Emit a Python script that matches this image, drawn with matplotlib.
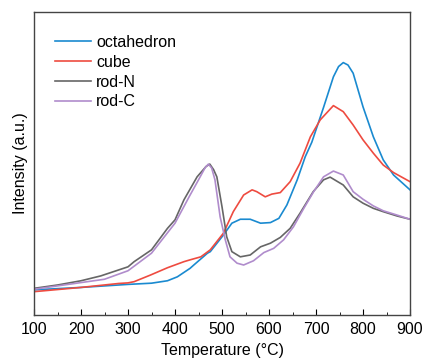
import numpy as np
import matplotlib
matplotlib.use("Agg")
import matplotlib.pyplot as plt
from matplotlib.ticker import MultipleLocator

plt.rcParams['font.family'] = ['Liberation Sans', 'DejaVu Sans']

# values (arbitrary intensity units, 0-100)
oct_t = [100, 200, 300, 350, 384, 405, 432, 440, 469, 475, 503, 521, 539, 560, 582, 603,
         621, 638, 660, 677, 691, 716, 737, 748, 758, 768, 779, 800, 822, 843, 865, 900]
oct_i = [8.3, 9.1, 10.1, 10.5, 11.3, 12.6, 15.4, 16.5, 20.4, 20.9, 26.4, 30.3, 31.6, 31.6, 30.3, 30.5,
         31.9, 36.3, 44.6, 52.2, 57.0, 68.5, 78.6, 82.0, 83.3, 82.5, 79.8, 68.7, 58.8, 51.2, 46.2, 41.3]

cube_t = [100, 200, 280, 300, 313, 348, 384, 419, 432, 455, 475, 503, 524, 546, 564, 574,
          592, 606, 624, 645, 666, 688, 709, 737, 758, 779, 800, 822, 843, 865, 900]
cube_i = [7.7, 9.1, 10.4, 10.6, 11.0, 13.2, 15.6, 17.6, 18.2, 19.2, 21.5, 27.0, 34.1, 39.6, 41.3, 40.7,
          39.0, 39.9, 40.4, 44.0, 50.1, 58.8, 64.4, 69.1, 67.1, 62.7, 57.8, 53.4, 49.5, 47.0, 44.0]

rodn_t = [100, 150, 200, 242, 300, 313, 350, 384, 400, 419, 447, 466, 474, 482, 489, 500, 510,
          521, 539, 560, 582, 603, 624, 645, 666, 694, 716, 730, 758, 779, 800, 822, 843, 872, 900]
rodn_i = [8.8, 9.9, 11.3, 12.9, 15.9, 17.6, 21.5, 28.6, 31.4, 38.0, 45.6, 49.0, 49.8, 48.0, 45.6, 35.7, 25.8,
          20.9, 19.2, 19.8, 22.5, 23.7, 25.6, 28.6, 33.6, 40.7, 44.6, 45.5, 42.9, 39.0, 36.9, 35.2, 34.1, 32.7, 31.6]

rodc_t = [100, 200, 250, 300, 350, 400, 430, 450, 464, 471, 478, 485, 496, 507, 517, 532, 546,
          567, 589, 610, 631, 652, 674, 695, 716, 737, 758, 779, 800, 822, 843, 872, 900]
rodc_i = [8.5, 10.7, 11.8, 14.6, 20.4, 30.3, 39.0, 44.6, 48.6, 49.8, 48.5, 44.6, 32.4, 24.8, 19.2, 17.1, 16.5,
          17.9, 20.6, 22.0, 24.8, 29.1, 35.2, 40.7, 45.6, 47.5, 46.2, 40.7, 38.2, 36.0, 34.4, 33.0, 31.6]

fig = plt.figure(figsize=(4.23, 3.6), dpi=100)
ax = fig.add_axes([0.0804, 0.125, 0.8889, 0.8417])

ax.plot(oct_t, oct_i, color='#1a8ad0', lw=1.2, label='octahedron')
ax.plot(cube_t, cube_i, color='#ee4b40', lw=1.2, label='cube')
ax.plot(rodn_t, rodn_i, color='#666666', lw=1.2, label='rod-N')
ax.plot(rodc_t, rodc_i, color='#b08ccc', lw=1.2, label='rod-C')

ax.set_xlim(100, 900)
ax.set_ylim(0, 100)
ax.xaxis.set_major_locator(MultipleLocator(100))
ax.xaxis.set_minor_locator(MultipleLocator(50))
ax.tick_params(axis='x', which='both', direction='in', labelsize=11.5, pad=5)
ax.tick_params(axis='x', which='major', length=4)
ax.tick_params(axis='x', which='minor', length=2)
ax.set_yticks([])
for s in ax.spines.values():
    s.set_color('#444444')
    s.set_linewidth(1.0)

ax.set_xlabel('Temperature (°C)', fontsize=11.5, labelpad=4)
ax.set_ylabel('Intensity (a.u.)', fontsize=11.5, labelpad=4)

ax.legend(loc='upper left', bbox_to_anchor=(0.04, 0.945), frameon=False, fontsize=11.5,
          handlelength=2.2, handletextpad=0.35, labelspacing=0.3, borderaxespad=0)

fig.savefig('out.png', dpi=100)
